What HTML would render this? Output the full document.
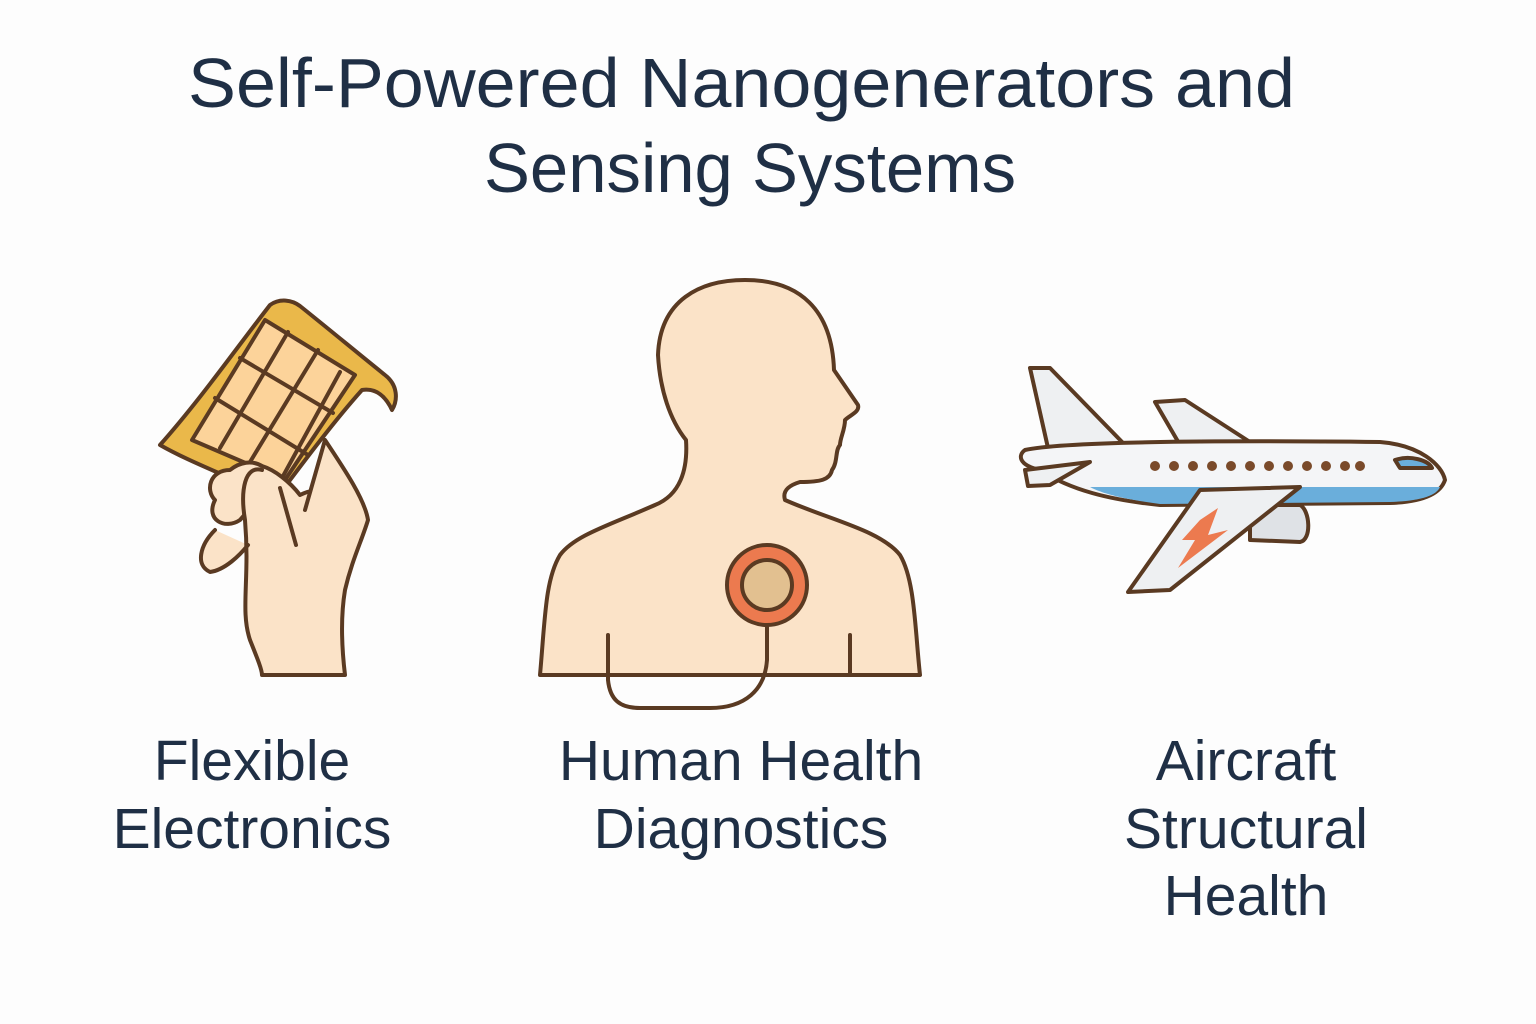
<!DOCTYPE html>
<html>
<head>
<meta charset="utf-8">
<style>
  html,body{margin:0;padding:0;background:#fdfdfd;}
  svg{display:block;}
  text{font-family:"Liberation Sans","DejaVu Sans",sans-serif;fill:#1f2f45;}
</style>
</head>
<body>
<svg width="1536" height="1024" viewBox="0 0 1536 1024">
  <rect width="1536" height="1024" fill="#fdfdfd"/>
  <g font-size="70">
    <text x="188" y="107" textLength="1107" lengthAdjust="spacingAndGlyphs">Self-Powered Nanogenerators and</text>
    <text x="484" y="192" textLength="532" lengthAdjust="spacingAndGlyphs">Sensing Systems</text>
  </g>

  <g stroke="#5a3a22" stroke-width="4" stroke-linejoin="round" stroke-linecap="round">
    <path d="M160 445 C200 400 235 350 270 305 C280 298 292 300 300 306 C330 330 360 355 385 375 C398 385 398 400 392 410 C385 395 375 388 362 390 C335 420 305 460 275 500 C240 480 195 465 160 445 Z" fill="#eab84a"/>
    <path d="M192 440 L265 320 L355 375 L285 480 Z" fill="#fcd39a"/>
    <path d="M215 398 L308 455 M240 358 L333 413 M220 448 L288 332 M250 462 L318 350 M282 478 L340 372" fill="none"/>
    <path d="M240 520 C225 530 205 520 215 500 C205 490 210 470 230 470 C240 462 252 460 262 466 C275 470 290 482 300 495 C310 490 318 488 325 500 L305 515 C300 520 305 530 310 545 L290 545 C280 525 270 510 262 495 Z" fill="#fbe3c8"/>
    <path d="M215 530 C200 545 195 565 210 572 C225 570 240 555 248 545 M262 470 C245 465 240 490 245 520 C250 580 240 610 250 640 C258 660 262 670 262 675 L345 675 C342 650 340 620 345 590 C352 560 362 540 368 520 C365 500 345 470 325 440 L305 510" fill="#fbe3c8"/>
    <path d="M280 488 L296 545" fill="none"/>
  </g>

  <g stroke="#5a3a22" stroke-width="4" stroke-linejoin="round" stroke-linecap="round">
    <path d="M540 675 C545 620 545 580 560 555 C575 535 610 525 655 505 C680 495 688 470 686 440 C670 420 660 390 658 355 C660 300 700 280 745 280 C800 280 832 310 834 370 L858 405 C860 412 850 415 845 420 C845 430 840 438 840 445 C835 450 838 462 832 470 C830 480 820 482 800 482 C790 485 782 490 785 500 C830 520 880 530 900 555 C915 580 915 630 920 675 Z" fill="#fbe3c8"/>
    <path d="M608 635 L608 680 C610 700 620 708 640 708 L710 708 C745 708 765 690 767 660 L767 625" fill="none"/>
    <path d="M850 635 L850 675" fill="none"/>
    <circle cx="767" cy="585" r="40" fill="#ec7a4f"/>
    <circle cx="767" cy="585" r="25" fill="#e2c090"/>
  </g>

  <g stroke="#5a3a22" stroke-width="4" stroke-linejoin="round" stroke-linecap="round">
    <path d="M1030 368 L1050 368 L1125 445 L1048 448 Z" fill="#eef0f2"/>
    <path d="M1155 402 L1185 400 L1250 442 L1180 445 Z" fill="#eef0f2"/>
    <path d="M1025 450 C1060 442 1200 440 1380 442 C1420 445 1442 465 1445 480 C1440 495 1420 502 1390 503 L1160 505 C1110 500 1070 490 1040 470 C1018 465 1018 455 1025 450 Z" fill="#f4f5f7"/>
    <path d="M1090 487 L1440 487 C1436 496 1420 501 1390 502 L1160 504 C1130 500 1105 495 1090 487 Z" fill="#6aaedb" stroke="none"/>
    <path d="M1395 460 C1410 455 1428 460 1432 468 L1400 468 Z" fill="#6aaedb"/>
    <path d="M1025 470 L1090 462 L1050 485 L1028 486 Z" fill="#eef0f2"/>
    <path d="M1250 505 L1300 505 C1310 510 1312 540 1300 542 L1250 540 Z" fill="#dfe2e6"/>
    <path d="M1200 490 L1300 487 L1170 590 L1128 592 Z" fill="#eef0f2"/>
    <path d="M1200 520 L1218 508 L1208 535 L1228 530 L1178 568 L1195 540 L1182 540 Z" fill="#ec7a4f" stroke="none"/>
    <g fill="#7a4a2a" stroke="none">
      <circle cx="1155" cy="466" r="5"/><circle cx="1174" cy="466" r="5"/><circle cx="1193" cy="466" r="5"/><circle cx="1212" cy="466" r="5"/><circle cx="1231" cy="466" r="5"/><circle cx="1250" cy="466" r="5"/><circle cx="1269" cy="466" r="5"/><circle cx="1288" cy="466" r="5"/><circle cx="1307" cy="466" r="5"/><circle cx="1326" cy="466" r="5"/><circle cx="1345" cy="466" r="5"/><circle cx="1360" cy="466" r="5"/>
    </g>
  </g>

  <g font-size="57" text-anchor="middle">
    <text x="252" y="780">Flexible</text>
    <text x="252" y="848">Electronics</text>
    <text x="741" y="780">Human Health</text>
    <text x="741" y="848">Diagnostics</text>
    <text x="1246" y="780">Aircraft</text>
    <text x="1246" y="848">Structural</text>
    <text x="1246" y="915">Health</text>
  </g>
</svg>
</body>
</html>
